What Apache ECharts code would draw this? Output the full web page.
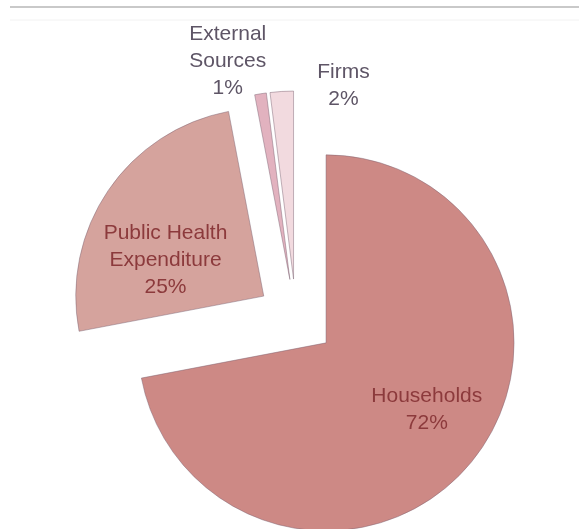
<!DOCTYPE html>
<html>
<head>
<meta charset="utf-8">
<script src="https://cdn.jsdelivr.net/npm/echarts@6/dist/echarts.min.js"></script>
<style>
  html, body { margin: 0; padding: 0; background: #ffffff; }
  #chart { width: 579px; height: 529px; }
</style>
</head>
<body>
<div id="chart"></div>
<script>
// Sources of health financing (share of total, %)
const categories = ['Households', 'Public Health\nExpenditure', 'External\nSources', 'Firms'];
const shares = [72, 25, 1, 2];
const sliceColors = ['#cd8985', '#d5a39d', '#e2b2bf', '#f2dadf'];
const labelColors = ['#8c3a3c', '#8c3a3c', '#5e5566', '#5e5566'];
// label nudges away from the default inside position
const labelShift = [[26, 5], [-18, 19], [-47, -122], [56, -97]];

const chart = echarts.init(document.getElementById('chart'), null, { renderer: 'canvas' });

const data = categories.map((name, i) => ({
  name: name,
  value: shares[i],
  selected: true,
  itemStyle: { color: sliceColors[i] },
  select: { itemStyle: { color: sliceColors[i] } },
  label: { color: labelColors[i] }
}));

chart.setOption({
  animation: false,
  graphic: [
    { type: 'line', shape: { x1: 10, y1: 7, x2: 579, y2: 7 }, style: { stroke: '#c9c9c9', lineWidth: 2 } },
    { type: 'line', shape: { x1: 10, y1: 20, x2: 579, y2: 20 }, style: { stroke: '#f2f2f2', lineWidth: 1 } }
  ],
  series: [{
    type: 'pie',
    center: [296, 318],
    radius: [0, 188],
    startAngle: 90,
    clockwise: true,
    selectedMode: 'multiple',
    selectedOffset: 39,
    avoidLabelOverlap: false,
    itemStyle: { borderColor: 'rgba(120,95,110,0.45)', borderWidth: 1 },
    emphasis: { disabled: true },
    label: {
      show: true,
      position: 'inside',
      formatter: '{b}\n{d}%',
      fontFamily: 'Liberation Sans, Arial, sans-serif',
      fontSize: 21,
      lineHeight: 27,
      align: 'center'
    },
    labelLine: { show: false },
    labelLayout: function (params) {
      const s = labelShift[params.dataIndex];
      return { dx: s[0], dy: s[1] };
    },
    data: data
  }]
});
</script>
</body>
</html>
